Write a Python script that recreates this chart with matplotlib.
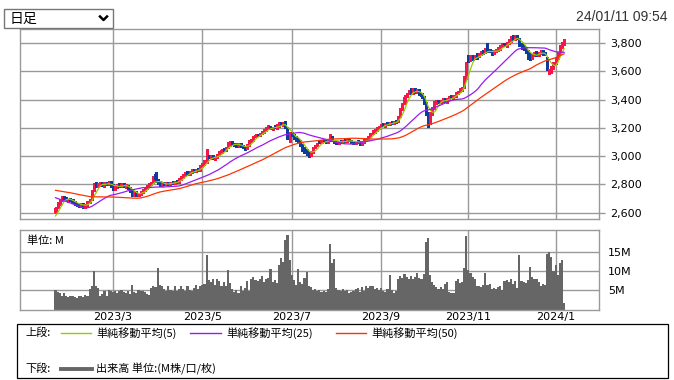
import numpy as np
import pandas as pd
import matplotlib
matplotlib.use("Agg")
import matplotlib.pyplot as plt
from matplotlib.patches import Rectangle
from matplotlib.lines import Line2D

JP = ["Noto Sans CJK JP", "DejaVu Sans"]

# TSE calendar for the window (market holidays on weekdays)
holidays = ["2023-02-23", "2023-03-21", "2023-05-03", "2023-05-04", "2023-05-05",
            "2023-07-17", "2023-08-11", "2023-09-18", "2023-10-09", "2023-11-03",
            "2023-11-23", "2024-01-01", "2024-01-02", "2024-01-03", "2024-01-08"]
start_day = "2023-01-20"
n_days = 240

# closes before the window (only used so the moving averages start like the original)
prior_close = [2790, 2800, 2815, 2830, 2820, 2810, 2825, 2840, 2830, 2815,
               2800, 2810, 2820, 2805, 2795, 2810, 2825, 2815, 2800, 2790,
               2805, 2820, 2810, 2800, 2795,
               2810, 2820, 2830, 2815, 2825, 2840, 2835, 2820, 2810, 2800,
               2790, 2770, 2740, 2700, 2660,
               2620, 2590, 2570, 2560, 2555, 2550, 2560, 2570, 2575]

opens = [2600, 2635, 2660, 2690, 2715, 2705, 2680, 2700, 2690, 2675,
         2665, 2660, 2645, 2665, 2640, 2650, 2670, 2695, 2760, 2810,
         2785, 2795, 2815, 2790, 2810, 2800, 2820, 2795, 2765, 2780,
         2800, 2785, 2805, 2780, 2790, 2775, 2755, 2725, 2745, 2720,
         2730, 2745, 2755, 2770, 2790, 2800, 2815, 2875, 2835, 2815,
         2795, 2810, 2800, 2815, 2800, 2820, 2810, 2825, 2815, 2835,
         2850, 2865, 2890, 2870, 2885, 2905, 2890, 2910, 2900, 2925,
         2945, 2955, 3005, 2985, 3000, 2980, 2995, 3010, 3025, 3050,
         3040, 3060, 3080, 3100, 3090, 3085, 3070, 3090, 3075, 3065,
         3055, 3080, 3105, 3115, 3140, 3155, 3145, 3160, 3170, 3185,
         3195, 3210, 3190, 3210, 3200, 3215, 3240, 3220, 3240, 3200,
         3110, 3165, 3150, 3135, 3125, 3110, 3080, 3060, 3045, 3025,
         3005, 3030, 3065, 3075, 3110, 3095, 3115, 3110, 3100, 3110,
         3140, 3110, 3105, 3090, 3110, 3100, 3115, 3105, 3120, 3110,
         3105, 3090, 3110, 3100, 3085, 3100, 3110, 3120, 3140, 3165,
         3170, 3180, 3195, 3210, 3230, 3215, 3235, 3225, 3245, 3230,
         3250, 3245, 3285, 3335, 3380, 3430, 3450, 3470, 3445, 3480,
         3450, 3470, 3445, 3420, 3380, 3310, 3230, 3300, 3345, 3375,
         3395, 3380, 3390, 3405, 3385, 3405, 3425, 3410, 3425, 3445,
         3460, 3470, 3485, 3560, 3700, 3685, 3710, 3700, 3725, 3705,
         3720, 3745, 3735, 3795, 3755, 3745, 3730, 3740, 3750, 3760,
         3775, 3800, 3780, 3800, 3815, 3850, 3825, 3850, 3835, 3795,
         3775, 3765, 3745, 3725, 3695, 3715, 3735, 3715, 3730, 3745,
         3735, 3700, 3590, 3600, 3625, 3660, 3690, 3730, 3775, 3800]

highs = [2640, 2675, 2700, 2715, 2720, 2710, 2700, 2705, 2695, 2680,
         2670, 2665, 2670, 2670, 2660, 2680, 2700, 2760, 2810, 2820,
         2810, 2820, 2820, 2815, 2815, 2825, 2825, 2800, 2790, 2805,
         2810, 2810, 2810, 2800, 2795, 2780, 2760, 2750, 2750, 2740,
         2755, 2765, 2780, 2795, 2810, 2820, 2860, 2890, 2840, 2825,
         2815, 2815, 2820, 2820, 2820, 2825, 2825, 2830, 2845, 2860,
         2875, 2890, 2895, 2895, 2910, 2910, 2910, 2915, 2935, 2955,
         2970, 3050, 3010, 3005, 3005, 2995, 3015, 3035, 3050, 3060,
         3065, 3100, 3105, 3105, 3095, 3090, 3095, 3095, 3080, 3070,
         3085, 3115, 3125, 3145, 3160, 3160, 3165, 3180, 3195, 3210,
         3220, 3215, 3210, 3220, 3225, 3240, 3245, 3245, 3250, 3210,
         3170, 3170, 3155, 3140, 3130, 3115, 3085, 3065, 3050, 3030,
         3035, 3065, 3080, 3095, 3115, 3115, 3120, 3115, 3120, 3160,
         3145, 3115, 3110, 3110, 3115, 3115, 3120, 3120, 3125, 3115,
         3110, 3110, 3115, 3105, 3105, 3120, 3130, 3145, 3165, 3185,
         3190, 3210, 3215, 3230, 3235, 3235, 3240, 3245, 3250, 3250,
         3255, 3285, 3340, 3380, 3430, 3450, 3470, 3485, 3480, 3485,
         3475, 3475, 3450, 3425, 3385, 3315, 3310, 3350, 3390, 3400,
         3400, 3400, 3410, 3410, 3415, 3425, 3430, 3430, 3455, 3465,
         3480, 3490, 3570, 3670, 3720, 3715, 3720, 3720, 3730, 3730,
         3745, 3755, 3765, 3805, 3760, 3755, 3750, 3760, 3770, 3790,
         3800, 3805, 3810, 3830, 3850, 3855, 3860, 3855, 3840, 3800,
         3785, 3770, 3750, 3730, 3725, 3740, 3745, 3740, 3750, 3750,
         3740, 3705, 3615, 3640, 3670, 3700, 3740, 3790, 3810, 3830]

lows = [2595, 2630, 2655, 2680, 2695, 2685, 2675, 2680, 2665, 2655,
        2645, 2640, 2640, 2635, 2635, 2645, 2665, 2690, 2750, 2780,
        2780, 2790, 2790, 2785, 2795, 2795, 2785, 2760, 2760, 2775,
        2780, 2780, 2780, 2775, 2770, 2745, 2720, 2720, 2715, 2715,
        2725, 2740, 2750, 2765, 2780, 2795, 2810, 2820, 2800, 2790,
        2790, 2795, 2795, 2795, 2795, 2805, 2805, 2810, 2810, 2830,
        2845, 2860, 2865, 2865, 2880, 2890, 2885, 2895, 2895, 2920,
        2940, 2950, 2985, 2980, 2980, 2975, 2990, 3005, 3020, 3035,
        3035, 3055, 3075, 3080, 3075, 3065, 3065, 3065, 3055, 3045,
        3050, 3075, 3100, 3110, 3135, 3140, 3140, 3155, 3165, 3180,
        3190, 3190, 3185, 3200, 3195, 3210, 3220, 3215, 3200, 3120,
        3100, 3140, 3125, 3110, 3100, 3070, 3040, 3020, 3005, 2995,
        3000, 3025, 3055, 3070, 3095, 3090, 3100, 3095, 3095, 3105,
        3105, 3095, 3085, 3085, 3095, 3095, 3100, 3100, 3105, 3095,
        3085, 3085, 3095, 3080, 3080, 3095, 3105, 3115, 3135, 3160,
        3165, 3175, 3190, 3205, 3215, 3210, 3220, 3220, 3230, 3225,
        3235, 3240, 3280, 3325, 3370, 3420, 3440, 3440, 3440, 3450,
        3445, 3435, 3410, 3370, 3290, 3210, 3225, 3295, 3335, 3370,
        3375, 3375, 3385, 3385, 3380, 3400, 3410, 3405, 3420, 3440,
        3455, 3460, 3480, 3550, 3670, 3675, 3680, 3690, 3690, 3700,
        3715, 3725, 3730, 3740, 3735, 3720, 3725, 3735, 3745, 3755,
        3770, 3780, 3775, 3795, 3810, 3825, 3820, 3830, 3780, 3760,
        3750, 3730, 3690, 3680, 3690, 3710, 3710, 3710, 3725, 3720,
        3715, 3610, 3580, 3590, 3615, 3650, 3685, 3725, 3765, 3790]

closes = [2630, 2665, 2690, 2705, 2700, 2695, 2690, 2685, 2670, 2660,
          2655, 2650, 2660, 2645, 2655, 2670, 2690, 2750, 2800, 2790,
          2800, 2810, 2795, 2805, 2800, 2815, 2790, 2770, 2780, 2795,
          2790, 2800, 2785, 2790, 2775, 2750, 2730, 2740, 2725, 2735,
          2745, 2760, 2770, 2790, 2800, 2815, 2850, 2830, 2805, 2800,
          2805, 2800, 2810, 2800, 2815, 2810, 2820, 2815, 2840, 2850,
          2870, 2880, 2875, 2890, 2900, 2895, 2905, 2900, 2930, 2950,
          2960, 3000, 2990, 2995, 2985, 2990, 3010, 3030, 3045, 3040,
          3060, 3090, 3095, 3085, 3080, 3075, 3085, 3070, 3060, 3055,
          3080, 3110, 3120, 3140, 3150, 3145, 3160, 3170, 3190, 3200,
          3210, 3195, 3200, 3205, 3215, 3230, 3225, 3235, 3210, 3130,
          3160, 3150, 3130, 3120, 3110, 3080, 3050, 3040, 3020, 3005,
          3030, 3060, 3070, 3090, 3100, 3110, 3105, 3100, 3115, 3130,
          3110, 3100, 3095, 3105, 3100, 3110, 3105, 3115, 3110, 3100,
          3095, 3105, 3100, 3090, 3100, 3115, 3125, 3140, 3160, 3175,
          3180, 3200, 3210, 3225, 3220, 3230, 3225, 3240, 3235, 3245,
          3240, 3280, 3330, 3370, 3420, 3440, 3460, 3450, 3470, 3455,
          3465, 3440, 3420, 3380, 3300, 3240, 3300, 3340, 3380, 3390,
          3385, 3395, 3400, 3390, 3410, 3420, 3415, 3425, 3450, 3460,
          3470, 3480, 3560, 3660, 3680, 3700, 3690, 3710, 3700, 3720,
          3740, 3730, 3760, 3745, 3740, 3730, 3745, 3755, 3760, 3780,
          3790, 3785, 3800, 3820, 3840, 3830, 3845, 3835, 3790, 3770,
          3760, 3740, 3710, 3700, 3720, 3730, 3715, 3735, 3740, 3730,
          3720, 3620, 3600, 3630, 3660, 3690, 3730, 3780, 3790, 3820]

# volume in millions of shares
volumes = [5.0, 4.6, 4.4, 3.4, 4.2, 3.6, 3.3, 3.5, 3.4, 3.2,
           3.0, 3.4, 3.6, 3.3, 3.8, 3.5, 5.2, 6.2, 10.1, 6.0,
           5.6, 3.4, 4.0, 4.8, 3.6, 5.0, 4.8, 4.6, 4.9, 4.2,
           4.7, 5.0, 4.5, 4.4, 4.8, 4.1, 6.3, 4.6, 4.3, 5.1,
           4.7, 4.9, 4.5, 3.9, 3.8, 5.6, 6.0, 5.8, 10.7, 6.4,
           6.0, 5.2, 4.8, 6.1, 5.0, 4.9, 6.2, 4.7, 5.3, 6.0,
           5.4, 4.9, 6.2, 5.0, 4.7, 5.6, 6.3, 5.2, 6.0, 6.4,
           6.6, 14.0, 7.6, 7.2, 8.0, 6.4, 7.8, 7.5, 6.2, 7.0,
           6.0, 10.2, 6.8, 5.2, 4.6, 5.0, 4.4, 6.2, 4.8, 5.6,
           7.4, 4.9, 7.8, 8.4, 7.6, 7.5, 7.9, 8.6, 7.2, 7.8,
           8.2, 10.4, 7.2, 7.6, 6.8, 11.6, 13.3, 12.2, 18.0, 19.2,
           12.8, 8.9, 7.6, 6.3, 10.4, 7.0, 6.5, 8.2, 9.8, 6.1,
           5.8, 5.0, 5.2, 4.8, 5.0, 4.6, 4.7, 4.5, 5.3, 17.0,
           12.0, 13.0, 5.6, 5.0, 4.9, 5.2, 4.8, 5.0, 4.3, 4.6,
           4.8, 5.4, 5.6, 4.5, 5.8, 4.8, 6.0, 5.5, 6.2, 6.0,
           5.2, 5.6, 5.0, 5.7, 4.8, 4.5, 5.2, 9.0, 5.0, 4.4,
           4.9, 8.0, 8.8, 8.2, 9.1, 8.4, 7.8, 8.7, 8.0, 8.5,
           9.4, 8.2, 8.0, 9.2, 17.5, 18.6, 9.0, 7.2, 6.4, 5.8,
           5.4, 5.8, 5.2, 6.6, 7.2, 4.6, 4.2, 4.4, 7.5, 7.8,
           6.8, 7.0, 10.7, 19.0, 10.2, 9.5, 8.3, 8.0, 6.0, 6.2,
           5.8, 6.4, 9.5, 6.3, 6.6, 5.4, 5.6, 5.2, 5.8, 6.0,
           5.0, 7.4, 7.6, 7.2, 7.8, 6.5, 7.3, 5.5, 14.2, 7.4,
           7.0, 6.8, 7.6, 11.0, 8.4, 7.8, 8.0, 7.0, 6.2, 6.6,
           6.3, 14.5, 15.0, 13.6, 10.0, 11.5, 9.0, 12.0, 12.7, 1.8]

ma_windows = [5, 25, 50]
ma_colors = ["#99cc00", "#9a1cf0", "#ff3300"]
ma_labels = ["単純移動平均(5)", "単純移動平均(25)", "単純移動平均(50)"]
price_ticks = [2600, 2800, 3000, 3200, 3400, 3600, 3800]
vol_ticks = [5, 10, 15]
timestamp = "24/01/11 09:54"

UP = "#f5164a"
DOWN = "#0c3d9e"
GRID = "#999999"

W, H = 674, 380
fig = plt.figure(figsize=(W / 100, H / 100), dpi=100)
fig.patch.set_facecolor("white")

def fx(px):
    return px / W

def fy(py):
    return 1 - py / H

dates = pd.date_range(start_day, periods=n_days,
                      freq=pd.offsets.CustomBusinessDay(holidays=holidays))
idx = np.arange(n_days)
month_pos = [i for i in range(1, n_days)
             if dates[i].month != dates[i - 1].month and dates[i].month % 2 == 1]
month_lab = ["%d/%d" % (dates[i].year, dates[i].month) for i in month_pos]

o = np.array(opens, float)
h = np.array(highs, float)
l = np.array(lows, float)
c = np.array(closes, float)
allc = pd.Series(prior_close + closes, dtype=float)

xlim = (-16.7, 255.4)

# ---- price panel
ax1 = fig.add_axes([fx(20), fy(219), (599 - 20) / W, (219 - 29) / H])
ax1.set_xlim(*xlim)
ax1.set_ylim(2555, 3901)
ax1.set_axisbelow(True)
ax1.grid(True, color=GRID, lw=1.0)
for s in ax1.spines.values():
    s.set_color(GRID)
    s.set_linewidth(1.0)
ax1.set_xticks(month_pos)
ax1.set_xticklabels([])
ax1.tick_params(axis="x", length=0)
ax1.yaxis.tick_right()
ax1.set_yticks(price_ticks)
ax1.set_yticklabels(["{:,}".format(v) for v in price_ticks])
ax1.tick_params(axis="y", length=4.5, width=1.0, color=GRID, pad=3.5,
                labelsize=8, labelcolor="black")

col = np.where(c >= o, UP, DOWN)
ax1.vlines(idx, l, h, colors=col, lw=0.8, zorder=2, antialiased=False)
body = np.maximum(np.abs(c - o), 5)
ax1.bar(idx, body, bottom=np.minimum(o, c), width=1.0, color=col, lw=0,
        zorder=2, antialiased=False)

for n, mc in zip(ma_windows, ma_colors):
    ma = allc.rolling(n).mean().to_numpy()[len(prior_close):]
    ax1.plot(idx, ma, color=mc, lw=0.9, zorder=3)

# ---- volume panel
ax2 = fig.add_axes([fx(20), fy(309.5), (599 - 20) / W, (309.5 - 230) / H])
ax2.set_xlim(*xlim)
ax2.set_ylim(0, 20.6)
ax2.set_axisbelow(True)
ax2.grid(True, color=GRID, lw=1.0)
for s in ax2.spines.values():
    s.set_color(GRID)
    s.set_linewidth(1.0)
ax2.bar(idx, volumes, width=1.0, color="#666666", lw=0, zorder=2, antialiased=False)
ax2.set_xticks(month_pos)
ax2.set_xticklabels(month_lab)
ax2.tick_params(axis="x", length=0, pad=1.5, labelsize=8)
ax2.yaxis.tick_right()
ax2.set_yticks(vol_ticks)
ax2.set_yticklabels(["%dM" % v for v in vol_ticks])
ax2.tick_params(axis="y", length=0, pad=6.5, labelsize=8)
ax2.text(0.012, 0.87, "単位: M", transform=ax2.transAxes, fontsize=8,
         family=JP, va="center", ha="left")

# ---- header
fig.add_artist(Rectangle((fx(4), fy(28)), (113 - 4) / W, (28 - 9) / H,
                         transform=fig.transFigure, fill=True, fc="white",
                         ec="#767676", lw=1.0))
fig.text(fx(10), fy(18.5), "日足", fontsize=10, family=JP, va="center", ha="left")
fig.add_artist(Line2D([fx(100), fx(103.5), fx(107)], [fy(16.5), fy(20), fy(16.5)],
                      transform=fig.transFigure, color="black", lw=1.8))
fig.text(fx(668), fy(17), timestamp, fontsize=10, family="Liberation Sans",
         color="#333333", va="center", ha="right")

# ---- legend box
fig.add_artist(Rectangle((fx(17), fy(378)), (668 - 17) / W, (378 - 324) / H,
                         transform=fig.transFigure, fill=False, ec="black", lw=0.9))
fig.text(fx(25), fy(333), "上段:", fontsize=8, family=JP, va="center")
line_x = [(61, 91), (190, 221), (336, 366)]
text_x = [96, 226, 371]
for (x0, x1), tx, mc, lab in zip(line_x, text_x, ma_colors, ma_labels):
    fig.add_artist(Line2D([fx(x0), fx(x1)], [fy(333), fy(333)],
                          transform=fig.transFigure, color=mc, lw=1.0))
    fig.text(fx(tx), fy(333), lab, fontsize=8, family=JP, va="center")
fig.text(fx(25), fy(369), "下段:", fontsize=8, family=JP, va="center")
fig.add_artist(Line2D([fx(61), fx(92)], [fy(369), fy(369)],
                      transform=fig.transFigure, color="#666666", lw=2.8))
fig.text(fx(96), fy(369), "出来高 単位:(M株/口/枚)", fontsize=8, family=JP, va="center")

fig.savefig("out.png", dpi=100)
